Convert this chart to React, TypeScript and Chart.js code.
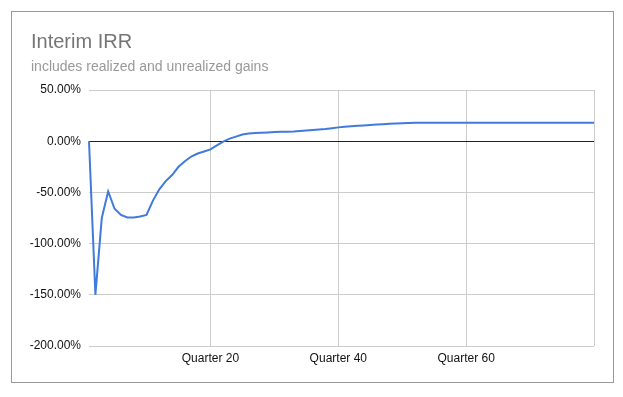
import React, { useEffect, useRef } from "react";
import { Chart, registerables } from "chart.js";

Chart.register(...registerables);

const TITLE = "Interim IRR";
const SUBTITLE = "includes realized and unrealized gains";

const quarters: string[] = Array.from({ length: 80 }, (_, i) => `Quarter ${i + 1}`);
const labeledQuarters = ["Quarter 20", "Quarter 40", "Quarter 60"];
const gridQuarters = ["Quarter 20", "Quarter 40", "Quarter 60", "Quarter 80"];

const irr: number[] = [
  0, -150, -75, -49, -66, -72, -74.5, -74.5, -73.5, -72,
  -58, -47, -39, -33, -25, -19.5, -15, -12, -10, -8,
  -4, -0.5, 2.5, 4.5, 6.5, 7.5, 8, 8.3, 8.6, 9,
  9.2, 9.3, 9.5, 10, 10.5, 11, 11.5, 12, 12.7, 13.5,
  14, 14.5, 15, 15.4, 15.8, 16.2, 16.6, 17, 17.3, 17.6,
  17.8, 18, 18, 18, 18, 18, 18, 18, 18, 18,
  18, 18, 18, 18, 18, 18, 18, 18, 18, 18,
  18, 18, 18, 18, 18, 18, 18, 18, 18, 18,
];

const yTicks = { min: -200, max: 50, step: 50 };

const titlePlugin = {
  id: "sheetTitle",
  afterDraw(chart: any) {
    const ctx = chart.ctx;
    ctx.save();
    ctx.textAlign = "left";
    ctx.textBaseline = "alphabetic";
    ctx.fillStyle = "#757575";
    ctx.font = "20px 'Liberation Sans', Arial, sans-serif";
    ctx.fillText(TITLE, 31, 48);
    ctx.fillStyle = "#999999";
    ctx.font = "14px 'Liberation Sans', Arial, sans-serif";
    ctx.fillText(SUBTITLE, 31, 71);
    ctx.restore();
  },
};

export default function App() {
  const ref = useRef<HTMLCanvasElement | null>(null);
  useEffect(() => {
    if (!ref.current) return;
    const chart = new Chart(ref.current, {
      type: "line",
      data: {
        labels: quarters,
        datasets: [
          {
            label: "Interim IRR",
            data: irr,
            borderColor: "#3f7bdc",
            backgroundColor: "#3f7bdc",
            borderWidth: 2,
            pointRadius: 0,
            tension: 0,
          },
        ],
      },
      options: {
        animation: false,
        responsive: false,
        layout: { padding: { top: 90, right: 29, left: 0, bottom: 0 } },
        plugins: {
          legend: { display: false },
          tooltip: { enabled: false },
          title: { display: false },
        },
        scales: {
          x: {
            type: "category",
            offset: false,
            border: { display: false },
            grid: {
              drawTicks: false,
              color: (c: any) =>
                c.tick && gridQuarters.includes(quarters[c.index]) ? "#cccccc" : "rgba(0,0,0,0)",
            },
            ticks: {
              autoSkip: false,
              maxRotation: 0,
              minRotation: 0,
              padding: 5,
              color: "#111111",
              font: { family: "'Liberation Sans', Arial, sans-serif", size: 12 },
              callback: (_v: any, i: number) =>
                labeledQuarters.includes(quarters[i]) ? quarters[i] : "",
            },
            afterFit: (s: any) => {
              s.height = 51;
            },
          },
          y: {
            min: yTicks.min,
            max: yTicks.max,
            border: { display: false },
            grid: {
              drawTicks: false,
              color: (c: any) => (c.tick && c.tick.value === 0 ? "#222222" : "#cccccc"),
            },
            ticks: {
              stepSize: yTicks.step,
              padding: 8,
              color: "#111111",
              font: { family: "'Liberation Sans', Arial, sans-serif", size: 12 },
              callback: (v: any) => `${Number(v).toFixed(2)}%`,
            },
            afterFit: (s: any) => {
              s.width = 89;
            },
          },
        },
      },
      plugins: [titlePlugin],
    });
    return () => chart.destroy();
  }, []);

  return (
    <div style={{ position: "fixed", left: 0, top: 0, width: 623, height: 397, background: "#fff" }}>
      <canvas ref={ref} width={623} height={397} style={{ position: "absolute", left: 0, top: 0 }} />
      <div
        style={{
          position: "absolute",
          left: 11,
          top: 11,
          width: 603,
          height: 372,
          boxSizing: "border-box",
          border: "1px solid #9a9a9a",
          pointerEvents: "none",
        }}
      />
    </div>
  );
}
